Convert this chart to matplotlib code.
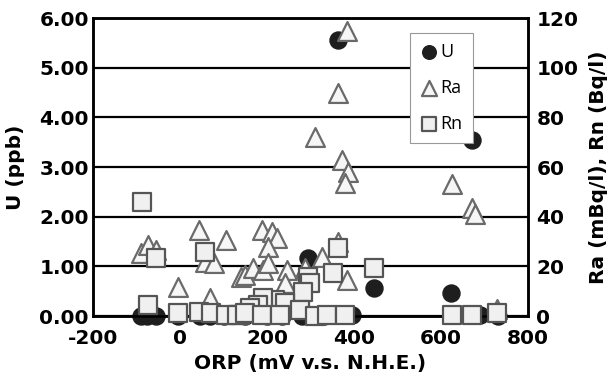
import matplotlib
matplotlib.use("Agg")
import matplotlib.pyplot as plt

# ---- data ----
u_orp = [363, 671, 294, 446, 623, -90, -75, -55, -5, 45, 70, 100, 150, 200, 235, 280, 300, 330, 395, 690, 730]
u_val = [5.55, 3.55, 1.17, 0.56, 0.46, 0.0, 0.0, 0.0, 0.0, 0.0, 0.0, 0.0, 0.0, 0.0, 0.0, 0.0, 0.02, 0.0, 0.02, 0.02, 0.0]

ra_orp = [384, 363, 310, 372, 386, 379, 625, 671, 678, 729, -90, -74, -55, 44, 106, 57, 78, -5, 69,
          140, 188, 211, 223, 202, 149, 168, 191, 202, 246, 241, 287, 326, 363, 384]
ra_val = [115, 90, 72, 63, 58, 53.6, 53, 43.5, 41, 3, 25.4, 28.6, 26.6, 34.6, 30.6, 21.7, 21.3, 11.7, 7.2,
          15.7, 34.6, 33.8, 31.4, 27.8, 16.5, 19.3, 18.5, 21.3, 18.5, 13.3, 19.3, 23.8, 30, 14.5]

rn_orp = [-87, -55, 57, -74, -5, 44, 71, 106, 138, 446, 363, 352, 294, 299, 283, 218, 191, 241, 179, 161,
          131, 149, 188, 230, 276, 310, 338, 379, 625, 671, 729]
rn_val = [45.9, 23.4, 25.8, 4.4, 1.2, 1.6, 1.2, 0.4, 0.4, 19.3, 27.4, 17.3, 15.7, 13.3, 9.7, 6.4, 7.2, 5.2, 4.4, 3.2,
          0.4, 1.2, 0.4, 0.4, 2.4, 0.0, 0.4, 0.5, 0.4, 0.4, 1.2]

x_ticks = [-200, 0, 200, 400, 600, 800]
u_ticks = [0, 1, 2, 3, 4, 5, 6]
r_ticks = [0, 20, 40, 60, 80, 100, 120]

plt.rcParams['font.family'] = ['DejaVu Sans']
plt.rcParams['axes.unicode_minus'] = False

fig = plt.figure(figsize=(6.1, 3.78), dpi=100)
ax = fig.add_axes([0.1525, 0.164, 0.7131, 0.788])
ax2 = ax.twinx()

ax.set_xlim(-200, 800)
ax.set_ylim(0, 6)
ax2.set_ylim(0, 120)
ax.set_xticks(x_ticks)
ax.set_xticklabels([str(v) for v in x_ticks])
ax.set_yticks(u_ticks)
ax.set_yticklabels([f"{v:.2f}" for v in u_ticks])
ax2.set_yticks(r_ticks)
ax2.set_yticklabels([str(v) for v in r_ticks])

ax.yaxis.grid(True, color='black', linewidth=1.6)
ax.set_axisbelow(True)

FS = 14.5
for a in (ax, ax2):
    for s in a.spines.values():
        s.set_linewidth(1.8)
        s.set_color('black')
    a.tick_params(length=0, labelsize=FS)
    for lab in a.get_xticklabels() + a.get_yticklabels():
        lab.set_fontweight('bold')
ax.tick_params(axis='x', pad=9)
ax.tick_params(axis='y', pad=3)
ax2.tick_params(axis='y', pad=6)

hU = ax.scatter(u_orp, u_val, s=150, marker='o', facecolor='#1e1e1e', edgecolor='#1e1e1e', linewidths=1, zorder=3, clip_on=False)
hRa = ax2.scatter(ra_orp, ra_val, s=185, marker='^', facecolor='#f6f6f6', edgecolor='#6a6a6a', linewidths=1.6, zorder=3, clip_on=False)
hRn = ax2.scatter(rn_orp, rn_val, s=170, marker='s', facecolor='#f0f0f0', edgecolor='#555555', linewidths=1.6, zorder=4, clip_on=False)

ax.set_xlabel("ORP (mV v.s. N.H.E.)", fontsize=FS, fontweight='bold', labelpad=5)
ax.set_ylabel("U (ppb)", fontsize=FS, fontweight='bold', labelpad=10)
ax2.set_ylabel("Ra (mBq/l), Rn (Bq/l)", fontsize=FS, fontweight='bold', labelpad=8)

leg = ax2.legend([hU, hRa, hRn], ["U", "Ra", "Rn"], loc='upper left', bbox_to_anchor=(0.7287, 0.95),
                 borderaxespad=0, frameon=True, fancybox=False, framealpha=1, edgecolor='#999999',
                 handletextpad=0.15, labelspacing=1.0, borderpad=0.55, handlelength=1.0,
                 prop={'family': 'Open Sans', 'size': 13}, markerscale=0.8)
leg.get_frame().set_linewidth(0.8)

fig.savefig("out.png", dpi=100)
